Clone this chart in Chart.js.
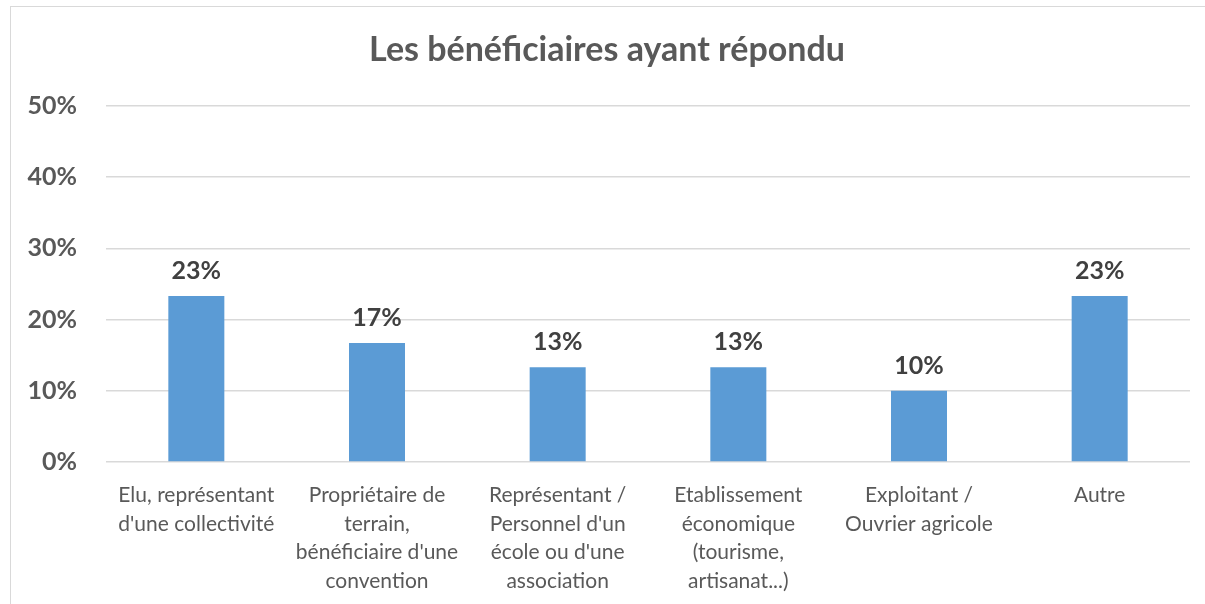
<!DOCTYPE html>
<html>
<head>
<meta charset="utf-8">
<script src="https://cdn.jsdelivr.net/npm/chart.js@4"></script>
<style>
  html, body { margin: 0; padding: 0; background: #fff; overflow: hidden; }
  #wrap { position: relative; width: 1205px; height: 604px; }
  #frame { position: absolute; left: 10px; top: 6px; width: 1400px; height: 800px; border: 1.5px solid #d9d9d9; }
  canvas { position: absolute; left: 0; top: 0; }
</style>
</head>
<body>
<div id="wrap">
  <div id="frame"></div>
  <canvas id="chart" width="1205" height="604"></canvas>
</div>
<script>
// categories (multi-line, as wrapped in the picture)
const categories = [
  ['Elu, représentant', "d'une collectivité"],
  ['Propriétaire de', 'terrain,', "bénéficiaire d'une", 'convention'],
  ['Représentant /', "Personnel d'un", "école ou d'une", 'association'],
  ['Etablissement', 'économique', '(tourisme,', 'artisanat...)'],
  ['Exploitant /', 'Ouvrier agricole'],
  ['Autre']
]
// share of respondents, in %
const shares = [23.3, 16.7, 13.3, 13.3, 10, 23.3]
const yTicks = [0, 10, 20, 30, 40, 50]

const fontFamily = 'Lato, "Open Sans", sans-serif'

// draws the value above each bar
const barValues = {
  id: 'barValues',
  afterDatasetsDraw(chart) {
    const ctx = chart.ctx
    const meta = chart.getDatasetMeta(0)
    ctx.save()
    ctx.font = 'bold 25px ' + fontFamily
    ctx.fillStyle = '#404040'
    ctx.textAlign = 'center'
    ctx.textBaseline = 'middle'
    meta.data.forEach((bar, i) => {
      ctx.fillText(Math.round(shares[i]) + '%', bar.x, bar.y - 25)
    })
    ctx.restore()
  }
}

new Chart(document.getElementById('chart'), {
  type: 'bar',
  data: {
    labels: categories,
    datasets: [{
      data: shares,
      backgroundColor: '#5b9bd5',
      barPercentage: 0.31,
      categoryPercentage: 1
    }]
  },
  options: {
    responsive: false,
    animation: false,
    layout: { padding: { left: 24, right: 15, top: 0, bottom: 0 } },
    plugins: {
      legend: { display: false },
      tooltip: { enabled: false },
      title: {
        display: true,
        text: 'Les bénéficiaires ayant répondu',
        color: '#595959',
        font: { family: fontFamily, size: 34, weight: 'bold' },
        padding: { top: 30, bottom: 35 }
      }
    },
    scales: {
      y: {
        min: 0,
        max: 50,
        afterFit(scale) { scale.width = 82 },
        afterBuildTicks(scale) { scale.ticks = yTicks.map(v => ({ value: v })) },
        border: { display: false },
        grid: { color: '#d9d9d9', lineWidth: 1.5, drawTicks: false },
        ticks: {
          padding: 29,
          color: '#595959',
          font: { family: fontFamily, size: 25, weight: 'bold' },
          callback: v => v + '%'
        }
      },
      x: {
        afterFit(scale) { scale.height = 142 },
        border: { display: false },
        grid: { display: false, drawTicks: false },
        ticks: {
          padding: 19,
          maxRotation: 0,
          autoSkip: false,
          color: '#595959',
          font: { family: fontFamily, size: 21, lineHeight: 1.36 }
        }
      }
    }
  },
  plugins: [barValues]
})
</script>
</body>
</html>
